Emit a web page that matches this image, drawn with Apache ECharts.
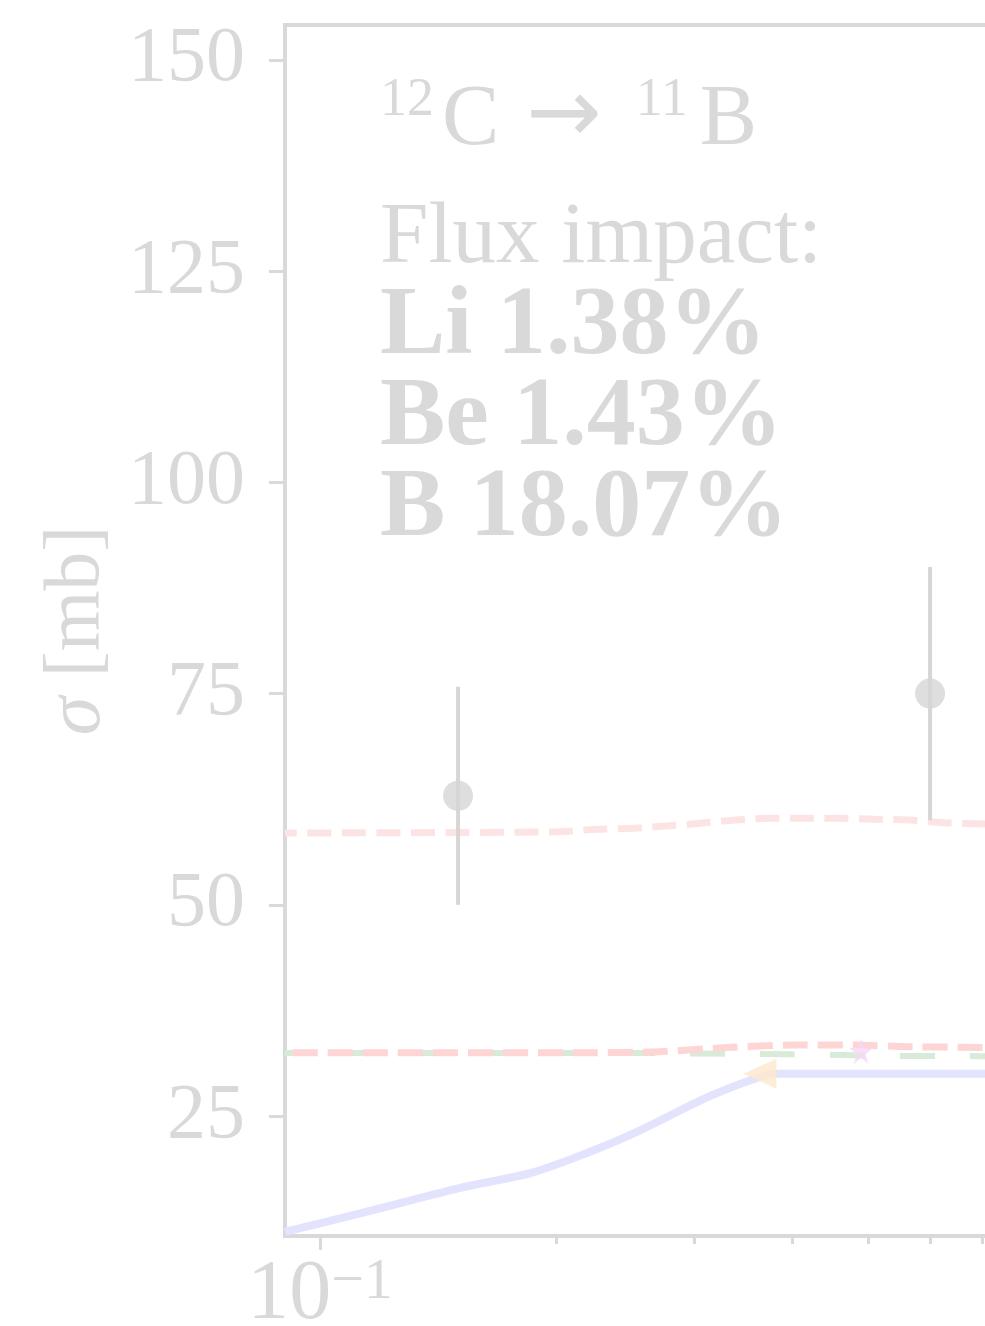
<!DOCTYPE html>
<html><head><meta charset="utf-8">
<script src="https://cdn.jsdelivr.net/npm/echarts@6/dist/echarts.min.js"></script>
<style>html,body{margin:0;padding:0;background:#fff}#c{width:985px;height:1326px}</style>
</head><body><div id="c"></div>
<script>
// ---- data ----
const measE = [0.150, 0.600];
const measSigma = [62.9, 75.0];
const measErr = [12.9, 15.0];

const blueE = [0.0902, 0.1128, 0.1509, 0.1864, 0.2243, 0.2560, 0.3116, 0.3556, 0.3805, 0.75];
const blueSigma = [11.3, 13.5, 16.5, 18.3, 21.0, 23.3, 27.2, 29.3, 30.0, 30.0];

const pinkE = [0.0902, 0.1465, 0.2022, 0.2255, 0.2507, 0.2763, 0.3053, 0.3393, 0.3760, 0.4166, 0.4607, 0.5098, 0.5655, 0.6250, 0.7062, 0.75];
const pinkSigma = [58.5, 58.56, 58.65, 58.94, 59.06, 59.33, 59.65, 60.04, 60.24, 60.24, 60.24, 60.12, 60.04, 59.72, 59.56, 59.5];

const redE = [0.0902, 0.22, 0.27, 0.33, 0.40, 0.48, 0.56, 0.65, 0.75];
const redSigma = [32.5, 32.5, 32.6, 33.1, 33.4, 33.4, 33.2, 33.15, 33.1];

const greenE = [0.0902, 0.27, 0.33, 0.40, 0.48, 0.56, 0.65, 0.75];
const greenSigma = [32.45, 32.45, 32.36, 32.3, 32.2, 32.1, 32.1, 32.05];

const triangleE = [0.364];
const triangleSigma = [30.0];
const starE = [0.49];
const starSigma = [32.7];

const xMajorTicks = [0.1, 1];
const xMinorTicks = [0.2, 0.3, 0.4, 0.5, 0.6, 0.7, 0.8, 0.9];
const yTicks = [25, 50, 75, 100, 125, 150];

const titleLine = ['12', 'C', '→', '11', 'B'];
const fluxLabel = 'Flux impact:';
const fluxLines = ['Li 1.38%', 'Be 1.43%', 'B 18.07%'];

// ---- chart ----
const FONT = "'Liberation Serif', 'DejaVu Serif', serif";
const TXT = '#d9d9d9';
const AX = '#d9d9d9';
const zip = (a, b) => a.map((v, i) => [v, b[i]]);

const chart = echarts.init(document.getElementById('c'), null, {renderer: 'canvas', width: 985, height: 1326});

const xMin = 0.09023, xMax = 1;

chart.setOption({
  animation: false,
  backgroundColor: '#ffffff',
  grid: {left: 285, top: 25, width: 819, bottom: 90, outerBoundsMode: 'none', containLabel: false,
    show: true, borderColor: AX, borderWidth: 4, backgroundColor: 'transparent'},
  xAxis: [
    {
      type: 'log', logBase: 10, min: xMin, max: xMax,
      axisLine: {show: true, lineStyle: {color: AX, width: 4}},
      axisTick: {show: true, customValues: xMajorTicks, length: 14, lineStyle: {color: AX, width: 3}},
      axisLabel: {
        show: true, customValues: xMajorTicks, margin: 18,
        formatter: v => {
          const p = Math.round(Math.log10(v));
          return '{a|10}{b|' + (p < 0 ? '−' + Math.abs(p) : p) + '}';
        },
        rich: {
          a: {fontFamily: FONT, fontSize: 84, color: TXT, lineHeight: 84, verticalAlign: 'bottom'},
          b: {fontFamily: FONT, fontSize: 58, color: TXT, lineHeight: 45, verticalAlign: 'top'}
        }
      },
      splitLine: {show: false}
    },
    {
      type: 'log', logBase: 10, min: xMin, max: xMax, position: 'bottom',
      axisLine: {show: false},
      axisTick: {show: true, customValues: xMinorTicks, length: 8, lineStyle: {color: AX, width: 3}},
      axisLabel: {show: false},
      splitLine: {show: false}
    }
  ],
  yAxis: {
    type: 'value', min: 10.8, max: 154.14,
    name: '{i|σ} [mb]', nameLocation: 'middle', nameGap: 168,
    nameTextStyle: {fontFamily: FONT, fontSize: 78, color: TXT,
      rich: {i: {fontFamily: FONT, fontSize: 78, color: TXT, fontStyle: 'italic'}}},
    axisLine: {show: true, lineStyle: {color: AX, width: 4}},
    axisTick: {show: true, customValues: yTicks, length: 16, lineStyle: {color: AX, width: 3}},
    axisLabel: {show: true, customValues: yTicks, margin: 40, fontFamily: FONT, fontSize: 78, color: TXT},
    splitLine: {show: false}
  },
  graphic: [
    {type: 'text', x: 380, y: 74, z: 10, style: {
      text: '{s|' + titleLine[0] + '}{c|' + titleLine[1] + '}{r|' + titleLine[2] + '}{s|' + titleLine[3] + '}{d|' + titleLine[4] + '}',
      verticalAlign: 'top', align: 'left',
      rich: {
        s: {fontFamily: FONT, fontSize: 54, fill: TXT, color: TXT, lineHeight: 45, verticalAlign: 'top'},
        c: {fontFamily: FONT, fontSize: 86, fill: TXT, color: TXT, lineHeight: 90, verticalAlign: 'bottom', padding: [0, 0, 0, 8]},
        d: {fontFamily: FONT, fontSize: 86, fill: TXT, color: TXT, lineHeight: 90, verticalAlign: 'bottom', padding: [0, 0, 0, 12]},
        r: {fontFamily: "'DejaVu Sans', sans-serif", fontSize: 90, fill: TXT, color: TXT, lineHeight: 62, verticalAlign: 'bottom', padding: [0, 34, 0, 27]}
      }}},
    {type: 'text', x: 380, y: 239, z: 10, style: {text: fluxLabel, fill: TXT, fontFamily: FONT, fontSize: 87, verticalAlign: 'middle', align: 'left'}},
    {type: 'text', x: 380, y: 328, z: 10, style: {text: fluxLines[0], fill: TXT, fontFamily: FONT, fontSize: 98, fontWeight: 'bold', verticalAlign: 'middle', align: 'left'}},
    {type: 'text', x: 380, y: 419, z: 10, style: {text: fluxLines[1], fill: TXT, fontFamily: FONT, fontSize: 98, fontWeight: 'bold', verticalAlign: 'middle', align: 'left'}},
    {type: 'text', x: 380, y: 510, z: 10, style: {text: fluxLines[2], fill: TXT, fontFamily: FONT, fontSize: 98, fontWeight: 'bold', verticalAlign: 'middle', align: 'left'}}
  ],
  series: [
    {type: 'line', name: 'pink', data: zip(pinkE, pinkSigma), showSymbol: false, smooth: 0.3, z: 2,
      lineStyle: {color: '#fde4e4', width: 7, type: [24, 10.5], dashOffset: 12}},
    {type: 'line', name: 'green', data: zip(greenE, greenSigma), showSymbol: false, smooth: 0.2, z: 2,
      lineStyle: {color: '#d8ebd8', width: 6, type: [35, 35], dashOffset: 15}},
    {type: 'line', name: 'red', data: zip(redE, redSigma), showSymbol: false, smooth: 0.2, z: 3,
      lineStyle: {color: '#fdd5d5', width: 7, type: [25, 10], dashOffset: 27}},
    {type: 'line', name: 'blue', data: zip(blueE, blueSigma), showSymbol: false, smooth: 0.3, z: 3,
      lineStyle: {color: '#e3e3fe', width: 8}},
    {type: 'scatter', name: 'tri', data: zip(triangleE, triangleSigma), symbol: 'triangle', symbolRotate: 90,
      symbolSize: [30, 33], itemStyle: {color: '#fee8cc'}, z: 4},
    {type: 'scatter', name: 'star', data: zip(starE, starSigma),
      symbol: 'path://M50,0 L61,35 L98,35 L68,57 L79,91 L50,70 L21,91 L32,57 L2,35 L39,35 Z',
      symbolSize: [24, 26], itemStyle: {color: '#f6d8f6'}, z: 4},
    {type: 'custom', name: 'err', z: 5,
      data: measE.map((e, i) => [e, measSigma[i] - measErr[i], measSigma[i] + measErr[i]]),
      encode: {x: 0, y: [1, 2]},
      renderItem: (params, api) => {
        const lo = api.coord([api.value(0), api.value(1)]);
        const hi = api.coord([api.value(0), api.value(2)]);
        return {type: 'line', shape: {x1: lo[0], y1: lo[1], x2: hi[0], y2: hi[1]}, style: {stroke: '#d6d6d6', lineWidth: 4}};
      }},
    {type: 'scatter', name: 'meas', data: zip(measE, measSigma), symbol: 'circle', symbolSize: 30,
      itemStyle: {color: '#d6d6d6'}, z: 6}
  ]
});
</script></body></html>
